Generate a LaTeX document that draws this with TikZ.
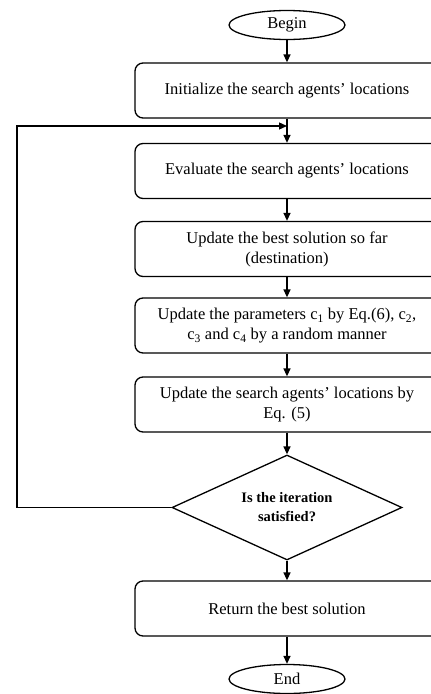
\documentclass[tikz,border=0pt]{standalone}
\usepackage{fontspec}
\setmainfont{Liberation Serif}
\usetikzlibrary{shapes.geometric,arrows.meta}

\begin{document}
\begin{tikzpicture}
  [x=1pt,y=-1pt,line width=1.3pt,>={Triangle[length=8pt,width=7pt]},
   every node/.style={draw,align=center,inner sep=0pt,font=\fontsize{16.5}{20}\selectfont},
   stepbox/.style={rounded corners=8pt,minimum width=304pt,minimum height=55pt},
   terminal/.style={ellipse,minimum width=116pt,minimum height=29pt},
   test/.style={diamond,aspect=2.19,minimum width=230pt,minimum height=105pt,font=\fontsize{14.5}{19}\bfseries}]
  \clip (0,0) rectangle (431,694);

  \node[terminal] (begin) at (287,25) {Begin};
  \node[stepbox] (init) at (287,90.5) {Initialize the search agents’ locations};
  \node[stepbox] (eval) at (287,171) {Evaluate the search agents’ locations};
  \node[stepbox] (best) at (287,249) {Update the best solution so far\\(destination)};
  \node[stepbox] (param) at (287,325.5) {Update the parameters c\textsubscript{1} by Eq.(6), c\textsubscript{2},\\c\textsubscript{3} and c\textsubscript{4} by a random manner};
  \node[stepbox] (move) at (287,404.5) {Update the search agents’ locations by\\Eq. (5)};
  \node[test] (stop) at (287,507.5) {Is the iteration\\satisfied?};
  \node[stepbox] (ret) at (287,608.5) {Return the best solution};
  \node[terminal] (end) at (287,679) {End};

  \foreach \from/\to in {begin/init,init/eval,eval/best,best/param,param/move,move/stop,stop/ret,ret/end}
    \draw[->] (\from) -- (\to);

  % loop back from the test to the top of the iteration
  \coordinate (join) at (287,126);
  \draw[->] (stop.west) -| (17,126) -- (join);
\end{tikzpicture}
\end{document}
